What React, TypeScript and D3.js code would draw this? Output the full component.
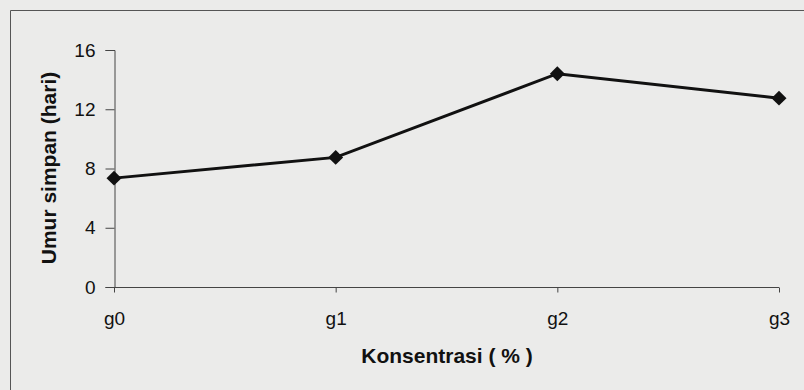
import React, { useEffect, useRef } from "react";
import * as d3 from "d3";

const categories = ["g0", "g1", "g2", "g3"];
const umurSimpan = [7.35, 8.75, 14.4, 12.75];
const yTicks = [0, 4, 8, 12, 16];

const W = 804;
const H = 390;

export default function App() {
  const ref = useRef<SVGSVGElement | null>(null);

  useEffect(() => {
    const svg = d3.select(ref.current);
    svg.selectAll("*").remove();

    svg.append("rect").attr("width", W).attr("height", H).attr("fill", "#ebebea");

    // outer chart frame
    svg
      .append("path")
      .attr("d", `M10.5,${H} V10.5 H${W}`)
      .attr("fill", "none")
      .attr("stroke", "#555")
      .attr("stroke-width", 1);

    const x = d3.scalePoint<string>().domain(categories).range([114, 779]);
    const y = d3.scaleLinear().domain([0, 16]).range([287, 50]);

    const font = "Arial, 'Liberation Sans', sans-serif";

    // y axis
    const yAxis = svg
      .append("g")
      .attr("transform", "translate(114.5,0)")
      .call(d3.axisLeft(y).tickValues(yTicks).tickSize(9).tickPadding(10));
    yAxis.select(".domain").attr("stroke", "#444");
    yAxis.selectAll(".tick line").attr("stroke", "#444");
    yAxis
      .selectAll("text")
      .attr("font-family", font)
      .attr("font-size", 19)
      .attr("fill", "#111");

    // x axis
    const xAxis = svg
      .append("g")
      .attr("transform", "translate(0,287.5)")
      .call(d3.axisBottom(x).tickSize(5));
    xAxis.select(".domain").attr("stroke", "#444").attr("d", `M${x("g0")},0H${x("g3")}`);
    xAxis.selectAll(".tick line").attr("stroke", "#444");
    xAxis
      .selectAll("text")
      .attr("y", 37)
      .attr("dy", 0)
      .attr("font-family", font)
      .attr("font-size", 19)
      .attr("fill", "#111");

    const line = d3
      .line<number>()
      .x((_, i) => x(categories[i]) as number)
      .y((d) => y(d));

    svg
      .append("path")
      .datum(umurSimpan)
      .attr("d", line)
      .attr("fill", "none")
      .attr("stroke", "#111")
      .attr("stroke-width", 3);

    const diamond = d3.symbol().type(d3.symbolSquare).size(112);
    svg
      .selectAll("path.marker")
      .data(umurSimpan)
      .enter()
      .append("path")
      .attr("class", "marker")
      .attr("d", diamond)
      .attr(
        "transform",
        (d, i) => `translate(${x(categories[i])},${y(d)}) rotate(45)`
      )
      .attr("fill", "#111");

    svg
      .append("text")
      .attr("x", 447)
      .attr("y", 363)
      .attr("text-anchor", "middle")
      .attr("font-family", font)
      .attr("font-weight", "bold")
      .attr("font-size", 21)
      .attr("fill", "#111")
      .text("Konsentrasi ( % )");

    svg
      .append("text")
      .attr("transform", "translate(56,168) rotate(-90)")
      .attr("text-anchor", "middle")
      .attr("font-family", font)
      .attr("font-weight", "bold")
      .attr("font-size", 21)
      .attr("fill", "#111")
      .text("Umur simpan (hari)");
  }, []);

  return (
    <svg
      ref={ref}
      width={W}
      height={H}
      style={{ position: "absolute", left: 0, top: 0, display: "block" }}
    />
  );
}
